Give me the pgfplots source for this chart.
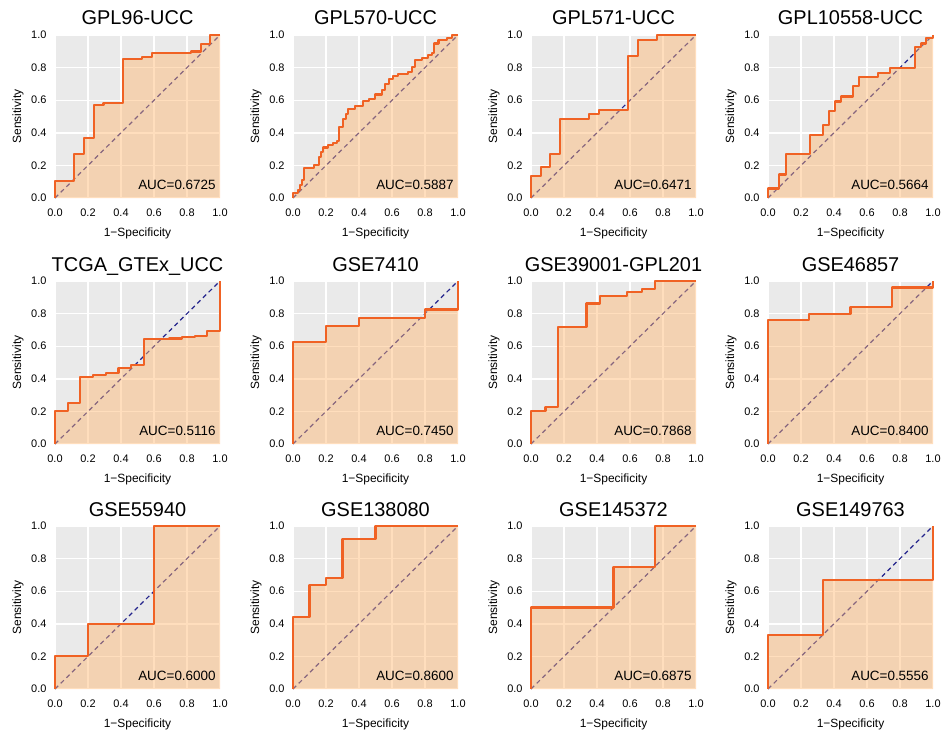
\documentclass[border=0pt]{standalone}
\usepackage{pgfplots}
\pgfplotsset{compat=1.18}
\usepackage{fontspec}
\setmainfont{Liberation Sans}

\definecolor{panelbg}{RGB}{234,234,234}
\definecolor{rocline}{RGB}{240,98,36}
\definecolor{rocfill}{RGB}{255,182,110}
\definecolor{diagcol}{RGB}{36,36,140}

\pgfplotsset{
  rocpanel/.style={
    width=165bp, height=163bp, scale only axis,
    xmin=0, xmax=1, ymin=0, ymax=1,
    clip=false,
    axis line style={draw=none},
    axis background/.style={fill=panelbg},
    grid=major, major grid style={white, line width=1.4bp},
    xtick={0,0.2,0.4,0.6,0.8,1}, ytick={0,0.2,0.4,0.6,0.8,1},
    major tick length=0pt,
    tick label style={font=\fontsize{11}{13}\selectfont},
    xticklabel style={yshift=-7bp},
    yticklabel style={xshift=-5bp},
    /pgf/number format/.cd, fixed, fixed zerofill, precision=1, assume math mode=true, /pgfplots/.cd,
  },
  diagline/.style={diagcol, line width=1.2bp, dash pattern=on 4.5bp off 3.5bp},
  rocarea/.style={draw=none, fill=rocfill, fill opacity=0.45, sharp plot},
  rocstep/.style={draw=rocline, line width=2.1bp, sharp plot, line join=bevel, opacity=1},
}
\tikzset{
  paneltitle/.style={anchor=base, font=\fontsize{20}{24}\selectfont},
  axlabel/.style={anchor=center, font=\fontsize{12}{14}\selectfont},
}

% one ROC panel: left, top (bp), title, AUC, curve corners (fpr, tpr)
\newcommand{\rocpanel}[5]{%
  \begin{axis}[rocpanel, at={(#1bp,-#2bp)}, anchor=north west]
    \addplot[diagline] coordinates {(0,0) (1,1)};
    \addplot[rocarea] coordinates {#5} \closedcycle;
    \addplot[rocstep] coordinates {#5};
    \node[anchor=base east, font=\fontsize{13.5}{16}\selectfont]
      at (axis description cs:0.995,0.05) {AUC=#4};
    \node[paneltitle] at ([yshift=10bp]axis description cs:0.5,1) {#3};
    \node[axlabel] at ([yshift=-35bp]axis description cs:0.5,0) {1−Specificity};
    \node[axlabel, rotate=90] at ([xshift=-37bp]axis description cs:0,0.5) {Sensitivity};
  \end{axis}}

\begin{document}
\begin{tikzpicture}[x=1bp,y=1bp]
\path[use as bounding box] (0,0) rectangle (943,-734);

% row 1
\rocpanel{55}{35}{GPL96-UCC}{0.6725}{(0,0) (0,0.103) (0.1176,0.103) (0.1176,0.268) (0.1765,0.268) (0.1765,0.367) (0.2353,0.367) (0.2353,0.571) (0.2941,0.571) (0.2941,0.581) (0.4118,0.581) (0.4118,0.852) (0.5294,0.852) (0.5294,0.866) (0.5882,0.866) (0.5882,0.887) (0.8235,0.887) (0.8235,0.899) (0.8824,0.899) (0.8824,0.944) (0.9412,0.944) (0.9412,1) (1,1)}
\rocpanel{293}{35}{GPL570-UCC}{0.5887}{(0,0) (0,0.03) (0.031,0.03) (0.031,0.05) (0.043,0.05) (0.043,0.08) (0.057,0.08) (0.057,0.11) (0.067,0.11) (0.067,0.186) (0.128,0.186) (0.128,0.2) (0.159,0.2) (0.159,0.25) (0.169,0.25) (0.169,0.28) (0.183,0.28) (0.183,0.31) (0.21,0.31) (0.21,0.326) (0.24,0.326) (0.24,0.34) (0.267,0.34) (0.267,0.35) (0.281,0.35) (0.281,0.433) (0.301,0.433) (0.301,0.485) (0.322,0.485) (0.322,0.515) (0.336,0.515) (0.336,0.546) (0.373,0.546) (0.373,0.567) (0.424,0.567) (0.424,0.594) (0.458,0.594) (0.458,0.608) (0.495,0.608) (0.495,0.635) (0.54,0.635) (0.54,0.66) (0.56,0.66) (0.56,0.70) (0.58,0.70) (0.58,0.73) (0.607,0.73) (0.607,0.746) (0.637,0.746) (0.637,0.763) (0.699,0.763) (0.699,0.773) (0.723,0.773) (0.723,0.804) (0.739,0.804) (0.739,0.845) (0.784,0.845) (0.784,0.86) (0.817,0.86) (0.817,0.876) (0.841,0.876) (0.841,0.89) (0.857,0.89) (0.857,0.948) (0.882,0.948) (0.882,0.97) (0.933,0.97) (0.933,0.983) (0.963,0.983) (0.963,1) (1,1)}
\rocpanel{531}{35}{GPL571-UCC}{0.6471}{(0,0) (0,0.134) (0.0588,0.134) (0.0588,0.19) (0.1176,0.19) (0.1176,0.268) (0.1765,0.268) (0.1765,0.485) (0.3529,0.485) (0.3529,0.515) (0.4118,0.515) (0.4118,0.54) (0.5882,0.54) (0.5882,0.871) (0.6471,0.871) (0.6471,0.968) (0.7647,0.968) (0.7647,1) (1,1)}
\rocpanel{768}{35}{GPL10558-UCC}{0.5664}{(0,0) (0,0.058) (0.067,0.058) (0.067,0.144) (0.108,0.144) (0.108,0.268) (0.257,0.268) (0.257,0.386) (0.332,0.386) (0.332,0.447) (0.369,0.447) (0.369,0.532) (0.407,0.532) (0.407,0.592) (0.444,0.592) (0.444,0.623) (0.515,0.623) (0.515,0.685) (0.552,0.685) (0.552,0.742) (0.668,0.742) (0.668,0.767) (0.739,0.767) (0.739,0.80) (0.892,0.80) (0.892,0.924) (0.929,0.924) (0.929,0.948) (0.959,0.948) (0.959,0.979) (1,0.979) (1,1)}

% row 2
\rocpanel{55}{281}{TCGA\_GTEx\_UCC}{0.5116}{(0,0) (0,0.202) (0.0769,0.202) (0.0769,0.254) (0.1538,0.254) (0.1538,0.412) (0.2308,0.412) (0.2308,0.423) (0.3077,0.423) (0.3077,0.437) (0.3846,0.437) (0.3846,0.468) (0.4615,0.468) (0.4615,0.485) (0.5385,0.485) (0.5385,0.643) (0.6923,0.643) (0.6923,0.647) (0.7692,0.647) (0.7692,0.654) (0.8462,0.654) (0.8462,0.664) (0.9231,0.664) (0.9231,0.695) (1,0.695) (1,1)}
\rocpanel{293}{281}{GSE7410}{0.7450}{(0,0) (0,0.625) (0.2,0.625) (0.2,0.725) (0.4,0.725) (0.4,0.775) (0.8,0.775) (0.8,0.825) (1,0.825) (1,1)}
\rocpanel{531}{281}{GSE39001-GPL201}{0.7868}{(0,0) (0,0.202) (0.088,0.202) (0.088,0.227) (0.165,0.227) (0.165,0.718) (0.336,0.718) (0.336,0.862) (0.418,0.862) (0.418,0.907) (0.582,0.907) (0.582,0.93) (0.672,0.93) (0.672,0.953) (0.75,0.953) (0.75,1) (1,1)}
\rocpanel{768}{281}{GSE46857}{0.8400}{(0,0) (0,0.76) (0.25,0.76) (0.25,0.8) (0.5,0.8) (0.5,0.84) (0.75,0.84) (0.75,0.96) (1,0.96) (1,1)}

% row 3
\rocpanel{55}{526}{GSE55940}{0.6000}{(0,0) (0,0.2) (0.2,0.2) (0.2,0.4) (0.6,0.4) (0.6,1) (1,1)}
\rocpanel{293}{526}{GSE138080}{0.8600}{(0,0) (0,0.44) (0.1,0.44) (0.1,0.64) (0.2,0.64) (0.2,0.68) (0.3,0.68) (0.3,0.92) (0.5,0.92) (0.5,1) (1,1)}
\rocpanel{531}{526}{GSE145372}{0.6875}{(0,0) (0,0.5) (0.5,0.5) (0.5,0.75) (0.75,0.75) (0.75,1) (1,1)}
\rocpanel{768}{526}{GSE149763}{0.5556}{(0,0) (0,0.3333) (0.3333,0.3333) (0.3333,0.6667) (1,0.6667) (1,1)}
\end{tikzpicture}
\end{document}
